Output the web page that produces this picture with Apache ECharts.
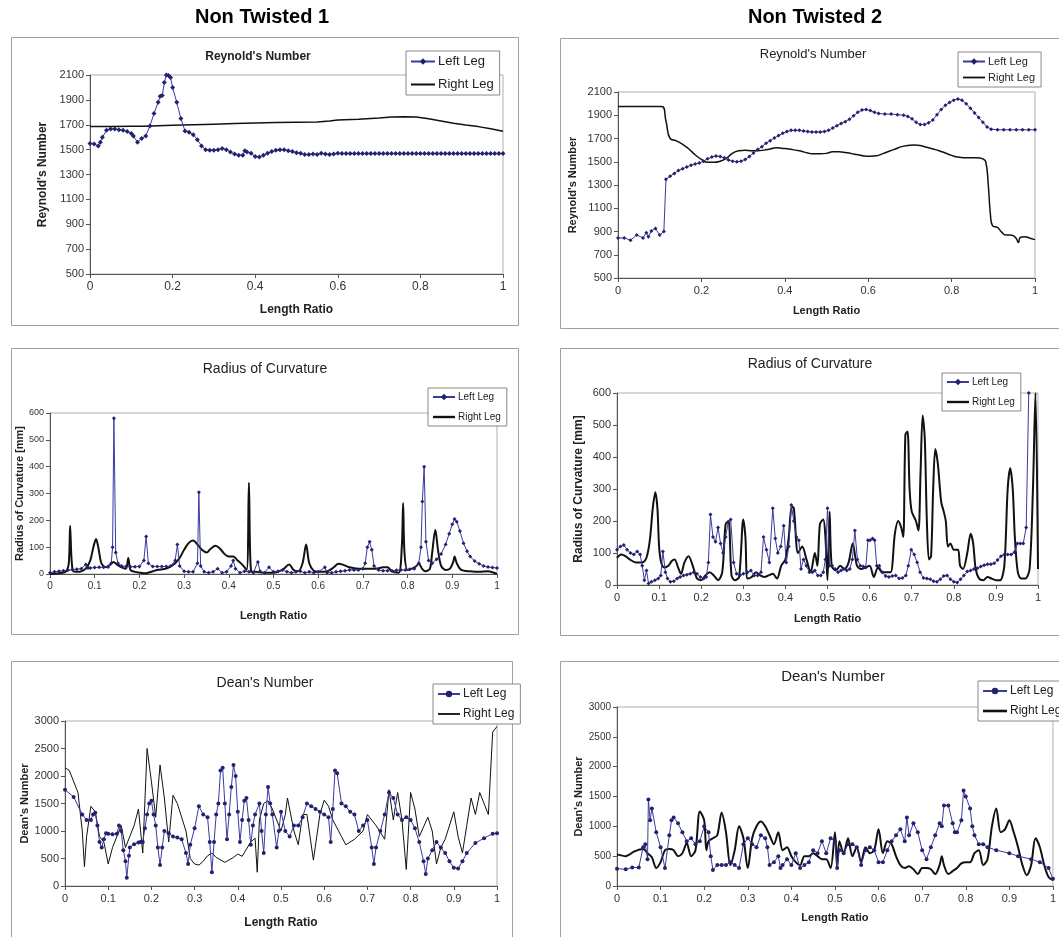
<!DOCTYPE html>
<html><head><meta charset="utf-8">
<script src="https://cdn.jsdelivr.net/npm/echarts@6/dist/echarts.min.js"></script>
<style>html,body{margin:0;padding:0;background:#fff}#c{width:1059px;height:937px}</style>
</head><body><div id="c"></div>
<script>
// ---------------- DATA ----------------
const legendNames = ['Left Leg', 'Right Leg'];
const headTitles = ['Non Twisted 1', 'Non Twisted 2'];
const panelTitles = ["Reynold's Number", "Reynold's Number", 'Radius of Curvature', 'Radius of Curvature', "Dean's Number", "Dean's Number"];
const yAxisNames = ["Reynold's Number", "Reynold's Number", 'Radius of Curvature [mm]', 'Radius of Curvature [mm]', "Dean's Number", "Dean's Number"];
const xAxisName = 'Length Ratio';
// [min, max, interval]
const yRanges = [[500, 2100, 200], [500, 2100, 200], [0, 600, 100], [0, 600, 100], [0, 3000, 500], [0, 3000, 500]];
const xIntervals = [0.2, 0.2, 0.1, 0.1, 0.1, 0.1];

const nt1ReLeft = [[0,1550],[0.01,1545],[0.02,1530],[0.025,1560],[0.03,1600],[0.04,1655],[0.05,1665],[0.06,1665],[0.07,1660],[0.08,1655],[0.09,1645],[0.1,1630],[0.105,1610],[0.115,1560],[0.125,1590],[0.135,1610],[0.145,1690],[0.155,1790],[0.165,1880],[0.17,1930],[0.175,1935],[0.18,2040],[0.185,2100],[0.19,2095],[0.195,2080],[0.2,2000],[0.21,1880],[0.22,1750],[0.23,1650],[0.24,1640],[0.25,1620],[0.26,1580],[0.27,1530],[0.28,1500],[0.29,1495],[0.3,1495],[0.31,1500],[0.32,1510],[0.33,1500],[0.34,1480],[0.35,1465],[0.36,1455],[0.37,1455],[0.375,1490],[0.38,1480],[0.39,1470],[0.4,1445],[0.41,1440],[0.42,1455],[0.43,1470],[0.44,1485],[0.45,1495],[0.46,1500],[0.47,1500],[0.48,1490],[0.49,1485],[0.5,1475],[0.51,1470],[0.52,1460],[0.53,1460],[0.54,1465],[0.55,1460],[0.56,1470],[0.57,1465],[0.58,1460],[0.59,1465],[0.6,1470],[0.61,1468],[0.62,1468],[0.63,1468],[0.64,1468],[0.65,1468],[0.66,1468],[0.67,1468],[0.68,1468],[0.69,1468],[0.7,1468],[0.71,1468],[0.72,1468],[0.73,1468],[0.74,1468],[0.75,1468],[0.76,1468],[0.77,1468],[0.78,1468],[0.79,1468],[0.8,1468],[0.81,1468],[0.82,1468],[0.83,1468],[0.84,1468],[0.85,1468],[0.86,1468],[0.87,1468],[0.88,1468],[0.89,1468],[0.9,1468],[0.91,1468],[0.92,1468],[0.93,1468],[0.94,1468],[0.95,1468],[0.96,1468],[0.97,1468],[0.98,1468],[0.99,1468],[1.0,1468]];
const nt1ReRight = [[0,1685],[0.05,1685],[0.1,1687],[0.13,1688],[0.2,1695],[0.25,1700],[0.3,1705],[0.35,1710],[0.4,1715],[0.45,1718],[0.5,1720],[0.55,1722],[0.58,1730],[0.6,1738],[0.65,1745],[0.7,1755],[0.73,1762],[0.76,1765],[0.79,1762],[0.82,1748],[0.85,1730],[0.88,1712],[0.91,1698],[0.94,1685],[0.97,1668],[1.0,1648]];

const nt2ReLeft = [[0,845],[0.015,845],[0.03,825],[0.045,870],[0.06,845],[0.068,890],[0.073,855],[0.08,905],[0.09,925],[0.1,870],[0.11,900],[0.115,1350],[0.125,1375],[0.135,1400],[0.145,1425],[0.155,1440],[0.165,1455],[0.175,1470],[0.185,1480],[0.195,1490],[0.205,1505],[0.215,1525],[0.225,1540],[0.235,1550],[0.245,1545],[0.255,1535],[0.265,1515],[0.275,1505],[0.285,1500],[0.295,1505],[0.305,1520],[0.315,1545],[0.325,1575],[0.335,1605],[0.345,1630],[0.355,1660],[0.365,1680],[0.375,1705],[0.385,1725],[0.395,1745],[0.405,1760],[0.415,1770],[0.425,1770],[0.435,1770],[0.445,1765],[0.455,1760],[0.465,1755],[0.475,1755],[0.485,1755],[0.495,1760],[0.505,1770],[0.515,1790],[0.525,1810],[0.535,1830],[0.545,1845],[0.555,1865],[0.565,1895],[0.575,1925],[0.585,1945],[0.595,1950],[0.605,1940],[0.615,1925],[0.625,1915],[0.64,1910],[0.655,1910],[0.67,1905],[0.685,1900],[0.695,1890],[0.705,1870],[0.715,1840],[0.725,1820],[0.735,1820],[0.745,1835],[0.755,1860],[0.765,1905],[0.775,1950],[0.785,1985],[0.795,2010],[0.805,2030],[0.815,2040],[0.825,2030],[0.835,2000],[0.845,1960],[0.855,1920],[0.865,1880],[0.875,1840],[0.885,1800],[0.895,1780],[0.91,1775],[0.925,1775],[0.94,1775],[0.955,1775],[0.97,1775],[0.985,1775],[1.0,1775]];
const nt2ReRight = [[0,1975],[0.05,1975],[0.105,1975],[0.115,1850],[0.125,1700],[0.14,1680],[0.155,1650],[0.17,1610],[0.185,1560],[0.2,1520],[0.215,1495],[0.23,1495],[0.245,1505],[0.26,1530],[0.275,1575],[0.29,1595],[0.305,1600],[0.32,1595],[0.335,1595],[0.35,1600],[0.365,1610],[0.38,1620],[0.395,1615],[0.41,1610],[0.425,1600],[0.44,1590],[0.455,1575],[0.47,1568],[0.485,1568],[0.5,1572],[0.515,1585],[0.53,1585],[0.545,1580],[0.56,1570],[0.575,1560],[0.59,1550],[0.605,1548],[0.62,1552],[0.635,1570],[0.65,1590],[0.665,1610],[0.68,1630],[0.695,1640],[0.71,1645],[0.725,1640],[0.74,1625],[0.755,1610],[0.77,1595],[0.785,1575],[0.8,1555],[0.815,1540],[0.83,1535],[0.845,1535],[0.86,1535],[0.875,1525],[0.882,1500],[0.888,1300],[0.893,1050],[0.898,950],[0.91,935],[0.92,895],[0.93,870],[0.945,868],[0.955,840],[0.96,805],[0.965,850],[0.975,855],[0.99,840],[1.0,830]];

const nt1RcLeft = [[0,5],[0.01,8],[0.02,10],[0.03,12],[0.04,14],[0.05,16],[0.06,18],[0.07,20],[0.08,35],[0.085,22],[0.09,22],[0.1,24],[0.11,25],[0.12,25],[0.13,26],[0.137,40],[0.14,100],[0.143,580],[0.147,80],[0.152,40],[0.16,30],[0.17,28],[0.18,27],[0.19,27],[0.2,28],[0.21,50],[0.215,140],[0.22,40],[0.23,28],[0.24,28],[0.25,28],[0.26,28],[0.27,30],[0.28,50],[0.285,110],[0.29,30],[0.3,10],[0.31,8],[0.32,8],[0.33,40],[0.333,305],[0.337,30],[0.345,8],[0.355,5],[0.365,8],[0.375,20],[0.385,5],[0.395,8],[0.405,30],[0.41,50],[0.415,20],[0.425,5],[0.435,10],[0.445,8],[0.455,5],[0.465,45],[0.47,10],[0.48,5],[0.49,25],[0.5,8],[0.51,10],[0.52,15],[0.53,8],[0.54,5],[0.55,8],[0.56,10],[0.57,5],[0.58,8],[0.59,5],[0.6,8],[0.615,25],[0.62,5],[0.63,5],[0.64,8],[0.65,10],[0.66,12],[0.67,15],[0.68,15],[0.69,15],[0.7,20],[0.705,40],[0.71,100],[0.715,120],[0.72,90],[0.725,30],[0.735,15],[0.745,12],[0.755,12],[0.765,12],[0.775,14],[0.785,15],[0.795,15],[0.805,18],[0.815,20],[0.825,40],[0.83,100],[0.833,270],[0.837,400],[0.841,120],[0.847,50],[0.855,40],[0.865,55],[0.875,75],[0.885,110],[0.893,150],[0.9,185],[0.905,205],[0.91,195],[0.917,160],[0.925,115],[0.933,85],[0.94,65],[0.95,48],[0.96,38],[0.97,30],[0.98,26],[0.99,24],[1.0,22]];
const nt1RcRight = [[0,0],[0.02,3],[0.035,8],[0.042,40],[0.045,180],[0.048,60],[0.052,10],[0.06,8],[0.07,10],[0.08,20],[0.09,50],[0.097,100],[0.103,130],[0.108,100],[0.115,40],[0.125,25],[0.135,35],[0.142,45],[0.15,35],[0.16,25],[0.17,20],[0.175,60],[0.18,15],[0.19,8],[0.2,5],[0.21,3],[0.22,5],[0.23,10],[0.24,15],[0.26,20],[0.27,28],[0.28,40],[0.29,60],[0.3,90],[0.31,115],[0.32,125],[0.33,110],[0.34,90],[0.35,80],[0.36,95],[0.37,105],[0.38,95],[0.39,75],[0.4,65],[0.41,65],[0.42,50],[0.43,35],[0.44,15],[0.445,340],[0.45,10],[0.46,8],[0.48,5],[0.5,5],[0.52,15],[0.535,35],[0.545,15],[0.555,10],[0.565,40],[0.573,110],[0.58,40],[0.59,12],[0.6,8],[0.62,10],[0.635,25],[0.645,38],[0.655,35],[0.67,25],[0.69,20],[0.71,20],[0.73,20],[0.745,25],[0.755,25],[0.765,10],[0.78,5],[0.787,100],[0.79,265],[0.793,80],[0.8,15],[0.81,20],[0.82,30],[0.825,40],[0.832,20],[0.84,10],[0.85,20],[0.855,80],[0.862,165],[0.868,90],[0.875,30],[0.885,15],[0.895,20],[0.902,45],[0.905,65],[0.91,40],[0.92,15],[0.94,10],[0.96,8],[0.98,10],[1.0,0]];

const nt2RcLeft = [[0,110],[0.008,120],[0.016,125],[0.024,110],[0.032,100],[0.04,95],[0.048,105],[0.055,95],[0.06,60],[0.065,15],[0.07,45],[0.075,5],[0.082,10],[0.09,15],[0.098,20],[0.104,30],[0.109,105],[0.115,40],[0.12,20],[0.127,10],[0.135,12],[0.143,20],[0.15,25],[0.158,30],[0.166,32],[0.174,35],[0.182,40],[0.19,35],[0.198,25],[0.206,20],[0.212,25],[0.217,70],[0.222,220],[0.228,150],[0.234,135],[0.24,180],[0.246,130],[0.252,100],[0.258,150],[0.264,195],[0.27,205],[0.277,70],[0.284,35],[0.292,30],[0.3,35],[0.31,40],[0.318,45],[0.326,30],[0.334,30],[0.342,40],[0.348,150],[0.355,110],[0.362,70],[0.37,240],[0.376,145],[0.382,100],[0.389,120],[0.396,185],[0.402,70],[0.408,120],[0.414,250],[0.42,200],[0.426,150],[0.432,140],[0.437,50],[0.443,80],[0.45,60],[0.457,40],[0.464,40],[0.47,45],[0.477,30],[0.484,30],[0.49,40],[0.495,80],[0.5,240],[0.505,60],[0.511,60],[0.518,50],[0.525,40],[0.532,45],[0.539,50],[0.546,45],[0.553,50],[0.559,80],[0.565,170],[0.571,80],[0.578,60],[0.585,58],[0.591,55],[0.596,140],[0.601,140],[0.607,145],[0.612,140],[0.617,60],[0.623,60],[0.63,40],[0.638,28],[0.646,25],[0.654,28],[0.662,30],[0.67,20],[0.678,22],[0.686,30],[0.692,60],[0.699,110],[0.706,95],[0.713,70],[0.72,40],[0.728,22],[0.736,20],[0.744,18],[0.752,12],[0.76,10],[0.768,18],[0.776,28],[0.784,30],[0.792,18],[0.8,10],[0.808,8],[0.816,18],[0.824,30],[0.832,42],[0.84,45],[0.848,50],[0.856,52],[0.864,58],[0.872,62],[0.88,65],[0.888,65],[0.896,68],[0.904,78],[0.912,90],[0.92,95],[0.928,95],[0.936,95],[0.944,102],[0.951,130],[0.958,130],[0.965,130],[0.972,180],[0.978,600]];
const nt2RcRight = [[0,85],[0.01,95],[0.02,90],[0.03,80],[0.045,70],[0.06,70],[0.07,85],[0.078,140],[0.085,240],[0.091,290],[0.096,240],[0.1,120],[0.105,70],[0.112,55],[0.122,60],[0.13,75],[0.137,80],[0.145,55],[0.152,35],[0.16,70],[0.17,90],[0.18,60],[0.19,20],[0.2,15],[0.21,30],[0.22,40],[0.23,30],[0.24,15],[0.25,40],[0.258,190],[0.265,200],[0.272,30],[0.28,15],[0.29,25],[0.3,205],[0.305,150],[0.31,20],[0.32,25],[0.33,40],[0.34,30],[0.35,25],[0.36,30],[0.37,35],[0.38,20],[0.39,60],[0.4,80],[0.408,150],[0.415,245],[0.42,240],[0.43,100],[0.44,120],[0.45,80],[0.46,40],[0.47,100],[0.476,60],[0.482,190],[0.49,205],[0.495,150],[0.5,15],[0.505,230],[0.51,60],[0.52,45],[0.53,60],[0.54,50],[0.55,70],[0.56,130],[0.57,60],[0.58,50],[0.59,55],[0.6,60],[0.61,25],[0.62,55],[0.63,40],[0.64,40],[0.65,40],[0.66,160],[0.668,200],[0.675,180],[0.68,150],[0.685,470],[0.69,480],[0.695,300],[0.7,230],[0.71,200],[0.716,170],[0.721,350],[0.726,530],[0.731,460],[0.736,200],[0.741,80],[0.746,90],[0.751,300],[0.756,425],[0.762,380],[0.77,260],[0.776,230],[0.781,200],[0.786,120],[0.792,130],[0.8,110],[0.81,110],[0.815,60],[0.822,50],[0.832,100],[0.84,160],[0.846,130],[0.852,50],[0.86,20],[0.87,15],[0.88,25],[0.89,20],[0.9,15],[0.91,15],[0.92,60],[0.928,300],[0.934,365],[0.94,300],[0.945,150],[0.952,40],[0.96,20],[0.97,20],[0.98,50],[0.988,300],[0.994,600],[1.0,50]];

const nt1DnLeft = [[0,1750],[0.02,1620],[0.04,1300],[0.05,1200],[0.06,1200],[0.065,1300],[0.07,1330],[0.075,1100],[0.08,800],[0.085,700],[0.09,850],[0.095,960],[0.1,950],[0.11,940],[0.12,950],[0.125,1100],[0.13,1000],[0.135,650],[0.14,450],[0.143,150],[0.148,550],[0.15,700],[0.16,760],[0.17,790],[0.175,800],[0.18,800],[0.185,1050],[0.19,1300],[0.195,1500],[0.2,1550],[0.205,1300],[0.21,1100],[0.215,700],[0.22,380],[0.225,700],[0.23,1000],[0.24,960],[0.25,900],[0.26,880],[0.27,850],[0.28,600],[0.285,400],[0.29,750],[0.3,1050],[0.31,1450],[0.32,1300],[0.33,1250],[0.335,800],[0.34,250],[0.345,800],[0.35,1300],[0.355,1500],[0.36,2100],[0.365,2150],[0.37,1500],[0.375,850],[0.38,1300],[0.385,1800],[0.39,2200],[0.395,2000],[0.4,1350],[0.405,800],[0.41,1200],[0.415,1550],[0.42,1600],[0.425,1200],[0.43,750],[0.435,1100],[0.44,1300],[0.45,1500],[0.455,1000],[0.46,600],[0.465,1300],[0.47,1800],[0.475,1500],[0.48,1300],[0.49,700],[0.495,1000],[0.5,1350],[0.51,1000],[0.52,900],[0.53,1100],[0.54,1100],[0.55,1250],[0.56,1500],[0.57,1450],[0.58,1400],[0.59,1350],[0.6,1300],[0.61,1250],[0.615,800],[0.62,1400],[0.625,2100],[0.63,2050],[0.64,1500],[0.65,1450],[0.66,1350],[0.67,1300],[0.68,1000],[0.69,1100],[0.7,1200],[0.71,700],[0.715,400],[0.72,700],[0.73,1000],[0.74,1300],[0.75,1700],[0.76,1600],[0.77,1300],[0.78,1200],[0.79,1250],[0.8,1200],[0.81,1050],[0.82,800],[0.83,450],[0.835,220],[0.84,500],[0.85,650],[0.86,800],[0.87,700],[0.88,600],[0.89,450],[0.9,330],[0.91,320],[0.92,450],[0.93,600],[0.95,780],[0.97,870],[0.99,950],[1.0,960]];
const nt1DnRight = [[0,2150],[0.01,2100],[0.03,1700],[0.04,1000],[0.045,350],[0.05,900],[0.06,1450],[0.07,1350],[0.08,900],[0.09,800],[0.1,400],[0.11,700],[0.13,1100],[0.14,700],[0.16,1100],[0.17,1400],[0.18,600],[0.19,2500],[0.2,1900],[0.21,1250],[0.22,2200],[0.23,1600],[0.24,800],[0.25,1650],[0.26,1500],[0.28,1000],[0.29,500],[0.3,400],[0.31,380],[0.32,450],[0.33,550],[0.34,600],[0.35,520],[0.37,430],[0.39,520],[0.4,580],[0.41,540],[0.43,800],[0.44,870],[0.445,250],[0.45,1200],[0.46,1500],[0.47,1550],[0.48,1400],[0.5,1000],[0.51,1300],[0.515,1600],[0.53,1000],[0.54,750],[0.55,1300],[0.56,1300],[0.575,470],[0.59,1300],[0.6,1560],[0.61,1450],[0.62,1200],[0.64,900],[0.65,750],[0.67,850],[0.69,1000],[0.7,1300],[0.72,1100],[0.74,850],[0.75,1750],[0.76,1200],[0.77,1700],[0.78,1200],[0.79,300],[0.8,1700],[0.81,1400],[0.82,900],[0.84,1250],[0.85,1000],[0.86,400],[0.87,700],[0.88,850],[0.9,1350],[0.91,900],[0.92,600],[0.93,1100],[0.94,1600],[0.95,1300],[0.96,1700],[0.97,1500],[0.98,1300],[0.99,2800],[1.0,2900]];

const nt2DnLeft = [[0,290],[0.02,280],[0.035,310],[0.05,310],[0.06,650],[0.065,700],[0.07,450],[0.072,1450],[0.076,1100],[0.08,1300],[0.09,900],[0.1,650],[0.11,300],[0.12,850],[0.125,1100],[0.13,1150],[0.14,1050],[0.15,900],[0.16,750],[0.17,800],[0.18,700],[0.19,750],[0.2,1000],[0.21,900],[0.215,500],[0.22,270],[0.23,350],[0.24,350],[0.25,350],[0.26,400],[0.27,350],[0.28,300],[0.29,700],[0.3,800],[0.31,700],[0.32,650],[0.33,850],[0.34,800],[0.345,650],[0.35,350],[0.36,400],[0.37,500],[0.375,300],[0.38,350],[0.39,450],[0.4,350],[0.41,550],[0.42,300],[0.43,350],[0.44,400],[0.45,600],[0.46,550],[0.47,750],[0.48,550],[0.49,800],[0.5,750],[0.505,300],[0.51,600],[0.52,550],[0.53,700],[0.54,700],[0.55,650],[0.56,350],[0.57,600],[0.58,650],[0.59,600],[0.6,400],[0.61,400],[0.62,600],[0.63,750],[0.64,850],[0.65,950],[0.66,750],[0.665,1150],[0.67,850],[0.68,1050],[0.69,900],[0.7,600],[0.71,450],[0.72,650],[0.73,850],[0.74,1050],[0.745,1000],[0.75,1350],[0.76,1350],[0.77,1050],[0.775,900],[0.78,900],[0.79,1100],[0.795,1600],[0.8,1500],[0.81,1300],[0.815,1000],[0.82,850],[0.83,700],[0.84,700],[0.85,650],[0.87,600],[0.9,550],[0.92,500],[0.95,450],[0.97,400],[0.99,300],[1.0,120]];
const nt2DnRight = [[0,530],[0.02,500],[0.04,580],[0.06,620],[0.07,550],[0.08,480],[0.09,300],[0.1,400],[0.11,600],[0.12,620],[0.13,600],[0.14,500],[0.15,550],[0.16,720],[0.17,500],[0.18,600],[0.19,1250],[0.2,1100],[0.205,600],[0.21,750],[0.22,800],[0.23,850],[0.24,1230],[0.25,900],[0.26,350],[0.27,600],[0.28,1000],[0.29,800],[0.3,300],[0.31,800],[0.32,1000],[0.33,1080],[0.34,1000],[0.35,850],[0.36,700],[0.37,900],[0.38,600],[0.39,650],[0.4,500],[0.41,400],[0.42,350],[0.43,500],[0.44,500],[0.45,550],[0.46,500],[0.47,450],[0.48,450],[0.49,300],[0.5,900],[0.505,300],[0.51,750],[0.52,550],[0.53,800],[0.54,500],[0.55,650],[0.56,400],[0.57,650],[0.58,550],[0.59,600],[0.6,950],[0.61,550],[0.62,750],[0.63,700],[0.64,500],[0.65,350],[0.66,300],[0.67,330],[0.68,280],[0.69,200],[0.7,300],[0.71,300],[0.72,280],[0.73,200],[0.74,350],[0.745,500],[0.75,350],[0.76,200],[0.77,250],[0.78,300],[0.79,380],[0.8,400],[0.81,400],[0.82,550],[0.83,600],[0.84,350],[0.85,450],[0.86,1000],[0.87,1300],[0.88,900],[0.89,950],[0.9,1100],[0.91,900],[0.92,650],[0.93,350],[0.94,180],[0.95,350],[0.96,800],[0.97,650],[0.98,350],[0.99,150],[1.0,100]];

const leftSeries = [nt1ReLeft, nt2ReLeft, nt1RcLeft, nt2RcLeft, nt1DnLeft, nt2DnLeft];
const rightSeries = [nt1ReRight, nt2ReRight, nt1RcRight, nt2RcRight, nt1DnRight, nt2DnRight];

// ---------------- LAYOUT / STYLE ----------------
const FONT = "'Liberation Sans', Arial, sans-serif";
const NARROW = "'Liberation Sans Narrow', 'Liberation Sans', Arial, sans-serif";
const BLUE = '#3b3ba0', MARK = '#22226e', BLACK = '#111';

const L = [
  {grid:{left:90,top:75,width:413,height:199}, box:[11,37,507,288], tx:258, ty:51, tfs:12, tfw:'bold', tff:FONT,
   lg:{left:406,top:51,fs:13,gap:10,iw:24,ff:FONT}, ylab:11, xlab:12, yns:12, yGap:41, xGap:30, xns:12, rw:1.5, sym:'diamond', ss:5, smooth:false, ff:FONT},
  {grid:{left:618,top:92,width:417,height:186}, box:[560,38,502,290], tx:813, ty:48, tfs:13, tfw:'normal', tff:FONT,
   lg:{left:958,top:52,fs:11,gap:5,iw:22,ff:FONT}, ylab:11, xlab:11, yns:11, yGap:40, xGap:27, xns:11, rw:1.5, sym:'diamond', ss:4, smooth:true, ff:FONT},
  {grid:{left:50,top:413,width:447,height:161}, box:[11,348,507,286], tx:265, ty:362, tfs:14, tfw:'normal', tff:NARROW,
   lg:{left:428,top:388,fs:10,gap:10,iw:22,ff:NARROW}, ylab:9, xlab:10, yns:11, yGap:22, xGap:36, xns:11, rw:2, sym:'diamond', ss:4, smooth:0.3, ff:NARROW},
  {grid:{left:617,top:393,width:421,height:192}, box:[560,348,502,287], tx:810, ty:357, tfs:14, tfw:'normal', tff:NARROW,
   lg:{left:942,top:373,fs:10,gap:10,iw:22,ff:NARROW}, ylab:11, xlab:11, yns:12, yGap:32, xGap:28, xns:11, rw:2, sym:'diamond', ss:4, smooth:0.3, ff:NARROW},
  {grid:{left:65,top:721,width:432,height:165}, box:[11,661,501,290], tx:265, ty:676, tfs:14, tfw:'normal', tff:NARROW,
   lg:{left:433,top:684,fs:12,gap:8,iw:22,ff:NARROW}, ylab:11, xlab:11, yns:11, yGap:31, xGap:31, xns:12, rw:1, sym:'circle', ss:4, smooth:false, ff:NARROW},
  {grid:{left:617,top:707,width:443,height:179}, box:[560,661,502,290], tx:833, ty:669, tfs:15, tfw:'normal', tff:FONT,
   lg:{left:978,top:681,fs:12,gap:8,iw:24,ff:FONT}, ylab:10, xlab:11, yns:11, yGap:33, xGap:26, xns:11, rw:2, sym:'circle', ss:4, smooth:0.3, ff:FONT}
];

const option = {
  animation: false,
  backgroundColor: '#fff',
  title: [], legend: [], grid: [], xAxis: [], yAxis: [], series: [],
  graphic: []
};

option.title.push({text: headTitles[0], left: 262, top: 7, textAlign: 'center', padding: 0,
  textStyle: {fontFamily: FONT, fontSize: 20, fontWeight: 'bold', color: '#000'}});
option.title.push({text: headTitles[1], left: 815, top: 7, textAlign: 'center', padding: 0,
  textStyle: {fontFamily: FONT, fontSize: 20, fontWeight: 'bold', color: '#000'}});

const plainNum = v => String(Math.round(v * 1000) / 1000);

L.forEach((p, i) => {
  option.graphic.push({type: 'rect', shape: {x: p.box[0] + 0.5, y: p.box[1] + 0.5, width: p.box[2], height: p.box[3]},
    style: {fill: null, stroke: '#a0a0a0', lineWidth: 1}, z: -10});
  option.title.push({text: panelTitles[i], left: p.tx, top: p.ty, textAlign: 'center', padding: 0,
    textStyle: {fontFamily: p.tff, fontSize: p.tfs, fontWeight: p.tfw, color: '#222'}});
  option.grid.push(Object.assign({show: true, borderColor: '#b0b0b0', borderWidth: 1, backgroundColor: '#fff', containLabel: false}, p.grid));
  option.xAxis.push({
    type: 'value', gridIndex: i, min: 0, max: 1, interval: xIntervals[i],
    name: xAxisName, nameLocation: 'middle', nameGap: p.xGap,
    nameTextStyle: {fontFamily: p.ff, fontSize: p.xns, fontWeight: 'bold', color: '#222'},
    axisLine: {show: true, onZero: false, lineStyle: {color: '#555', width: 1}},
    axisTick: {show: true, length: 4, lineStyle: {color: '#555'}},
    axisLabel: {fontFamily: p.ff, fontSize: p.xlab, color: '#333', margin: 7, formatter: plainNum},
    splitLine: {show: false}
  });
  option.yAxis.push({
    type: 'value', gridIndex: i, min: yRanges[i][0], max: yRanges[i][1], interval: yRanges[i][2],
    name: yAxisNames[i], nameLocation: 'middle', nameGap: p.yGap, nameRotate: 90,
    nameTextStyle: {fontFamily: p.ff, fontSize: p.yns, fontWeight: 'bold', color: '#222'},
    axisLine: {show: true, lineStyle: {color: '#555', width: 1}},
    axisTick: {show: true, length: 4, lineStyle: {color: '#555'}},
    axisLabel: {fontFamily: p.ff, fontSize: p.ylab, color: '#333', margin: 6, formatter: plainNum},
    splitLine: {show: false}
  });
  const ln = legendNames[0] + '|' + i, rn = legendNames[1] + '|' + i;
  option.series.push({
    name: ln, type: 'line', xAxisIndex: i, yAxisIndex: i, data: leftSeries[i],
    symbol: p.sym, symbolSize: p.ss, showSymbol: true, showAllSymbol: true,
    lineStyle: {color: BLUE, width: 1}, itemStyle: {color: MARK, borderWidth: 0},
    z: 3, clip: true
  });
  option.series.push({
    name: rn, type: 'line', xAxisIndex: i, yAxisIndex: i, data: rightSeries[i],
    symbol: 'none', smooth: p.smooth,
    lineStyle: {color: BLACK, width: p.rw}, itemStyle: {color: BLACK},
    z: 2, clip: true
  });
  const lineIcon = 'path://M0,0 L24,0 L24,' + (p.rw >= 2 ? 2.6 : 2) + ' L0,' + (p.rw >= 2 ? 2.6 : 2) + ' Z';
  option.legend.push({
    data: [{name: ln}, {name: rn, icon: lineIcon}], orient: 'vertical', left: p.lg.left, top: p.lg.top,
    backgroundColor: '#fff', borderColor: '#888', borderWidth: 1, borderRadius: 0,
    padding: [4, 6, 4, 4], itemGap: p.lg.gap, itemWidth: p.lg.iw, itemHeight: 8,
    selectedMode: false,
    formatter: n => n.split('|')[0],
    textStyle: {fontFamily: p.lg.ff, fontSize: p.lg.fs, color: '#222', padding: [0, 0, 0, -2]}
  });
});

const chart = echarts.init(document.getElementById('c'));
chart.setOption(option);
</script>
</body></html>
